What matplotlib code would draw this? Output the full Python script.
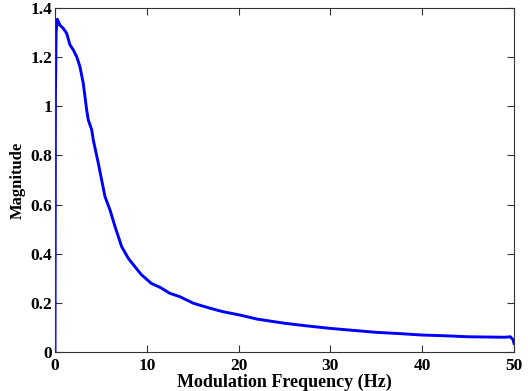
import matplotlib
matplotlib.use("Agg")
import matplotlib.pyplot as plt
from matplotlib.ticker import FormatStrFormatter

# values
freq_hz = [0.0, 0.05, 0.12, 0.25, 0.54, 0.9, 1.27, 1.63, 2.0, 2.36, 2.72, 3.08,
           3.45, 3.63, 4.0, 4.17, 4.72, 5.08, 5.45, 6.0, 6.54, 7.26, 7.99, 8.71,
           9.4, 10.5, 11.5, 12.5, 13.6, 15.1, 16.9, 18.3, 20.2, 22.0, 25.0,
           27.5, 30.0, 32.5, 35.0, 37.5, 40.0, 42.5, 45.0, 47.0, 49.0, 49.6,
           49.9, 50.0]
magnitude = [0.0, 1.05, 1.30, 1.354, 1.33, 1.317, 1.297, 1.25, 1.229, 1.202, 1.161, 1.093,
             0.985, 0.944, 0.904, 0.863, 0.768, 0.70, 0.632, 0.577, 0.51, 0.429, 0.381, 0.347,
             0.315, 0.279, 0.262, 0.239, 0.225, 0.198, 0.178, 0.164, 0.15, 0.134, 0.117,
             0.106, 0.096, 0.088, 0.08, 0.075, 0.069, 0.066, 0.062, 0.061, 0.06, 0.062,
             0.05, 0.035]

x_ticks = [0, 10, 20, 30, 40, 50]
y_ticks = [0, 0.2, 0.4, 0.6, 0.8, 1.0, 1.2, 1.4]

plt.rcParams['font.family'] = ['Liberation Serif', 'DejaVu Serif']
plt.rcParams['font.weight'] = 'bold'

fig = plt.figure(figsize=(5.28, 3.91), dpi=100)
ax = fig.add_axes([55 / 528, 1 - 352 / 391, 459 / 528, 344 / 391])

ax.plot(freq_hz, magnitude, color='#0000ff', linewidth=2.1)

ax.set_xlim(0, 50)
ax.set_ylim(0, 1.4)
ax.set_xticks(x_ticks)
ax.set_yticks(y_ticks)
ax.yaxis.set_major_formatter(FormatStrFormatter('%g'))

ax.tick_params(direction='in', top=True, right=True, length=5, width=0.8,
               color='#333333', labelsize=12.5)
ax.tick_params(axis='x', pad=4)
ax.tick_params(axis='y', pad=2)
for lbl in ax.get_xticklabels() + ax.get_yticklabels():
    lbl.set_fontweight('bold')
for sp in ax.spines.values():
    sp.set_color('#333333')
    sp.set_linewidth(0.8)

ax.set_xlabel('Modulation Frequency (Hz)', fontsize=13, fontweight='bold')
ax.xaxis.set_label_coords(0.5, -0.064)
ax.set_ylabel('Magnitude', fontsize=12, fontweight='bold', labelpad=3)

fig.savefig('out.png', dpi=100)
